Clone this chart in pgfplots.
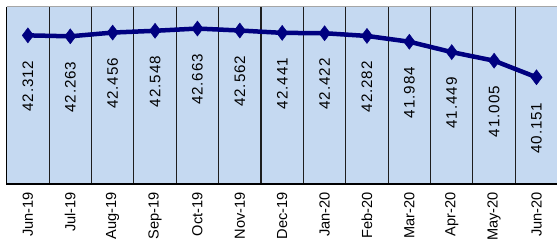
\documentclass[border=0pt]{standalone}
\usepackage{fontspec}
\setmainfont{Liberation Sans}
\newfontfamily\labfont[LetterSpace=6]{Liberation Sans}
\usepackage{pgfplots}
\pgfplotsset{compat=1.18}
\definecolor{bgblue}{RGB}{197,217,241}
\definecolor{navy}{RGB}{0,0,128}
\definecolor{sep}{RGB}{30,30,30}
\begin{document}
\begin{tikzpicture}
\begin{axis}[
  at={(6.7pt,64pt)}, anchor=south west,
  scale only axis, width=551pt, height=177.3pt,
  xmin=-0.5, xmax=12.5, ymin=34.65, ymax=43.79,
  axis background/.style={fill=bgblue},
  axis line style={draw=none},
  xtick={0,...,12},
  xticklabels={Jun-19,Jul-19,Aug-19,Sep-19,Oct-19,Nov-19,Dec-19,Jan-20,Feb-20,Mar-20,Apr-20,May-20,Jun-20},
  xticklabel style={rotate=90, anchor=east, inner sep=0pt, font=\fontsize{14.6}{14.6}\selectfont},
  xticklabel shift=8pt,
  minor xtick={0.5,1.5,...,11.5},
  xminorgrids=true,
  minor grid style={draw=sep, line width=1.1pt},
  major tick length=0pt, minor tick length=0pt,
  ytick=\empty,
  clip=false,
  nodes near coords,
  point meta=explicit symbolic,
  every node near coord/.style={font=\labfont\fontsize{15.2}{15.2}\selectfont, inner sep=0pt, yshift=-25pt, rotate=90, anchor=east, text=black},
]
\addplot[navy, line width=4.5pt, mark=diamond*, mark size=7.5pt, mark options={fill=navy, line width=0.5pt}] table[meta=v] {
x y v
0 42.312 42.312
1 42.263 42.263
2 42.456 42.456
3 42.548 42.548
4 42.663 42.663
5 42.562 42.562
6 42.441 42.441
7 42.422 42.422
8 42.282 42.282
9 41.984 41.984
10 41.449 41.449
11 41.005 41.005
12 40.151 40.151
};
\draw[black, line width=1.1pt] (rel axis cs:0,1) -- (rel axis cs:0,0) -- (rel axis cs:1,0);
\draw[gray!70, line width=1.1pt] (rel axis cs:0,1) -- (rel axis cs:1,1);
\end{axis}
\pgfresetboundingbox
\useasboundingbox (0,0) rectangle (557pt,248pt);
\end{tikzpicture}
\end{document}
